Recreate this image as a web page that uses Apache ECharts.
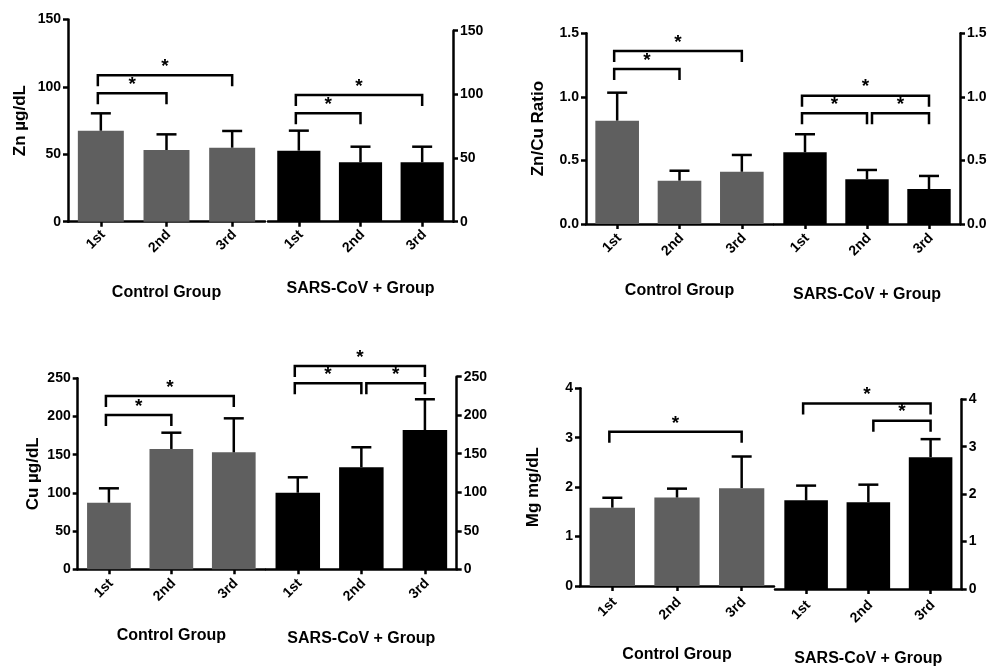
<!DOCTYPE html>
<html><head><meta charset="utf-8">
<script src="https://cdn.jsdelivr.net/npm/echarts@6/dist/echarts.min.js"></script>
<style>html,body{margin:0;padding:0;background:#fff}#c{width:991px;height:668px}</style>
</head><body><div id="c"></div><script>
// ---------- data ----------
const categories = ['1st', '2nd', '3rd'];
const groupNames = ['Control Group', 'SARS-CoV + Group'];

const znTitle = 'Zn µg/dL';
const znTicks = [0, 50, 100, 150];
const znControl = [67.5, 53.2, 54.9];
const znControlSD = [12.9, 11.6, 12.4];
const znCov = [55.8, 46.7, 46.7];
const znCovSD = [15.7, 12.2, 12.2];
const znControlSig = [[0, 2, 108.7], [0, 1, 95.3]];
const znCovSig = [[0, 2, 99.5], [0, 1, 85.1]];

const ratioTitle = 'Zn/Cu Ratio';
const ratioTicks = [0.0, 0.5, 1.0, 1.5];
const ratioControl = [0.813, 0.341, 0.411];
const ratioControlSD = [0.22, 0.078, 0.132];
const ratioCov = [0.564, 0.352, 0.275];
const ratioCovSD = [0.142, 0.073, 0.103];
const ratioControlSig = [[0, 2, 1.361], [0, 1, 1.22]];
const ratioCovSig = [[0, 2, 1.009], [0, 1, 0.871], [1, 2, 0.871]];

const cuTitle = 'Cu µg/dL';
const cuTicks = [0, 50, 100, 150, 200, 250];
const cuControl = [87.2, 157.5, 153.1];
const cuControlSD = [18.8, 21.3, 44.5];
const cuCov = [99.4, 132.4, 180.8];
const cuCovSD = [20.0, 26.0, 39.9];
const cuControlSig = [[0, 2, 226.8], [0, 1, 202.0]];
const cuCovSig = [[0, 2, 263.9], [0, 1, 241.4], [1, 2, 241.4]];

const mgTitle = 'Mg mg/dL';
const mgTicks = [0, 1, 2, 3, 4];
const mgControl = [1.585, 1.79, 1.98];
const mgControlSD = [0.2, 0.18, 0.64];
const mgCov = [1.87, 1.83, 2.78];
const mgCovSD = [0.31, 0.37, 0.38];
const mgControlSig = [[0, 2, 3.12]];
const mgCovSig = [[0, 2, 3.91], [1, 2, 3.55]];

// ---------- layout / style ----------
const FONT = '"Liberation Sans", Arial, Helvetica, sans-serif';
const GRAY = '#5f5f5f';
const BLACK = '#000000';
const LW = 2.5;
const LEG = 11;

const panels = [
  { title: znTitle, ticks: znTicks, dec: 0,
    ctl: znControl, ctlSD: znControlSD, cov: znCov, covSD: znCovSD, ctlSig: znControlSig, covSig: znCovSig,
    gL: { left: 68, top: 19.5, width: 197, height: 202.2 }, gR: { left: 268, top: 30.7, width: 185, height: 191 },
    yGap: 39, nGapL: 63, nGapR: 59, lblM: 13 },
  { title: ratioTitle, ticks: ratioTicks, dec: 1,
    ctl: ratioControl, ctlSD: ratioControlSD, cov: ratioCov, covSD: ratioCovSD, ctlSig: ratioControlSig, covSig: ratioCovSig,
    gL: { left: 586, top: 33.3, width: 187, height: 190.7 }, gR: { left: 774, top: 33.3, width: 186, height: 190.7 },
    yGap: 39, nGapL: 59, nGapR: 63, lblM: 14 },
  { title: cuTitle, ticks: cuTicks, dec: 0,
    ctl: cuControl, ctlSD: cuControlSD, cov: cuCov, covSD: cuCovSD, ctlSig: cuControlSig, covSig: cuCovSig,
    gL: { left: 77.7, top: 378.3, width: 187.3, height: 191 }, gR: { left: 266, top: 376.7, width: 190.7, height: 192.6 },
    yGap: 36, nGapL: 58, nGapR: 61, lblM: 14 },
  { title: mgTitle, ticks: mgTicks, dec: 0,
    ctl: mgControl, ctlSD: mgControlSD, cov: mgCov, covSD: mgCovSD, ctlSig: mgControlSig, covSig: mgCovSig,
    gL: { left: 580, top: 388.3, width: 194, height: 197.7 }, gR: { left: 775, top: 399.3, width: 186.7, height: 190.7 },
    yGap: 38, nGapL: 61, nGapR: 62, lblM: 16 }
];

function errRender(params, api) {
  const x = api.value(0), m = api.value(1), sd = api.value(2);
  const base = api.coord([x, m]);
  const top = api.coord([x, m + sd]);
  return { type: 'group', children: [
    { type: 'line', shape: { x1: base[0], y1: base[1], x2: top[0], y2: top[1] }, style: { stroke: BLACK, lineWidth: LW } },
    { type: 'line', shape: { x1: top[0] - 10, y1: top[1], x2: top[0] + 10, y2: top[1] }, style: { stroke: BLACK, lineWidth: LW } }
  ]};
}

function sigRender(params, api) {
  const i1 = api.value(0), i2 = api.value(1), lv = api.value(2);
  const a = api.coord([i1, lv]);
  const b = api.coord([i2, lv]);
  const x1 = a[0] + (i1 === 0 ? -3 : 5);
  const x2 = b[0];
  const y = a[1];
  return { type: 'group', children: [
    { type: 'polyline', shape: { points: [[x1, y + LEG], [x1, y], [x2, y], [x2, y + LEG]] },
      style: { stroke: BLACK, lineWidth: LW, fill: null } },
    { type: 'text', style: { text: '*', x: (x1 + x2) / 2, y: y + 1, align: 'center', verticalAlign: 'bottom',
      font: 'bold 19px ' + FONT, fill: BLACK } }
  ]};
}

const grid = [], xAxis = [], yAxis = [], series = [];
panels.forEach((p, pi) => {
  [0, 1].forEach(side => {
    const gi = pi * 2 + side;
    grid.push(Object.assign({ containLabel: false }, side === 0 ? p.gL : p.gR));
    xAxis.push({
      type: 'category', gridIndex: gi, data: categories, boundaryGap: true,
      axisLine: { show: true, lineStyle: { color: BLACK, width: LW } },
      axisTick: { show: true, alignWithLabel: true, length: 5, lineStyle: { color: BLACK, width: LW } },
      axisLabel: { rotate: 45, margin: p.lblM, color: BLACK, fontFamily: FONT, fontWeight: 'bold', fontSize: 14,
        padding: [0, -3, 0, 0] },
      name: groupNames[side], nameLocation: 'middle', nameGap: side === 0 ? p.nGapL : p.nGapR,
      nameTextStyle: { color: BLACK, fontFamily: FONT, fontWeight: 'bold', fontSize: 16 },
      splitLine: { show: false }
    });
    const t = p.ticks;
    yAxis.push({
      type: 'value', gridIndex: gi, position: side === 0 ? 'left' : 'right',
      min: t[0], max: t[t.length - 1], interval: t[1] - t[0],
      axisLine: { show: true, lineStyle: { color: BLACK, width: LW } },
      axisTick: { show: true, length: 5, lineStyle: { color: BLACK, width: LW } },
      axisLabel: { color: BLACK, fontFamily: FONT, fontWeight: 'bold', fontSize: 14, margin: 7,
        formatter: v => v.toFixed(p.dec) },
      splitLine: { show: false },
      name: side === 0 ? p.title : '', nameLocation: 'middle', nameGap: p.yGap, nameRotate: 90,
      nameTextStyle: { color: BLACK, fontFamily: FONT, fontWeight: 'bold', fontSize: 17 }
    });
    const vals = side === 0 ? p.ctl : p.cov;
    const sds = side === 0 ? p.ctlSD : p.covSD;
    const sig = side === 0 ? p.ctlSig : p.covSig;
    series.push({
      type: 'bar', xAxisIndex: gi, yAxisIndex: gi, data: vals, barWidth: '70%',
      itemStyle: { color: side === 0 ? GRAY : BLACK }, z: 2, silent: true
    });
    series.push({
      type: 'custom', xAxisIndex: gi, yAxisIndex: gi, renderItem: errRender,
      data: vals.map((v, i) => [i, v, sds[i]]), encode: { x: 0, y: 1 }, z: 3, silent: true
    });
    series.push({
      type: 'custom', xAxisIndex: gi, yAxisIndex: gi, renderItem: sigRender, clip: false,
      data: sig, encode: { x: [0, 1], y: 2 }, z: 4, silent: true
    });
  });
});

const chart = echarts.init(document.getElementById('c'), null, { renderer: 'canvas' });
chart.setOption({ animation: false, backgroundColor: '#fff', grid, xAxis, yAxis, series });
</script></body></html>
